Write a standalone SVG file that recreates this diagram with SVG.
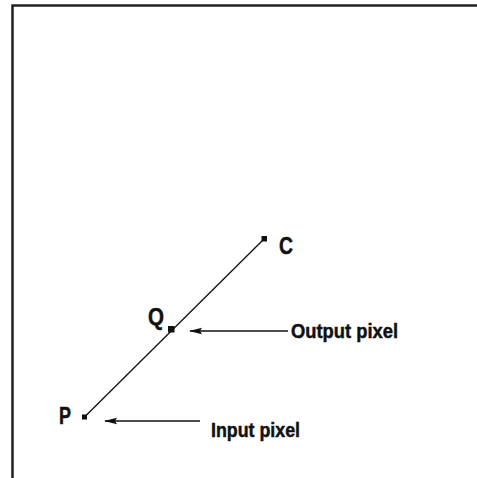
<svg xmlns="http://www.w3.org/2000/svg" width="477" height="478" viewBox="0 0 477 478">
<style>
.lbl{font-family:"Liberation Sans",Arial,sans-serif;font-weight:bold;fill:#111;stroke:#111;stroke-width:0.5}
.big{font-size:24px}
.sm{font-size:21px}
.ln{stroke:#111;stroke-width:1.3;fill:none}
.pt{fill:#111}
</style>
<defs>
<marker id="ah" markerWidth="13" markerHeight="8" refX="12" refY="4" orient="auto" markerUnits="userSpaceOnUse">
<path d="M0,0.8 L13,4 L0,7.2 L2,4 Z" fill="#111"/>
</marker>
</defs>
<rect x="0" y="0" width="477" height="478" fill="#fff"/>
<path d="M12.5,480 L12.5,5.5 L480,5.5" fill="none" stroke="#222" stroke-width="2.5"/>
<g id="connectors">
<line class="ln" x1="84.5" y1="417" x2="264" y2="239"/>
<line class="ln" x1="288" y1="331" x2="190" y2="331" marker-end="url(#ah)"/>
<line class="ln" x1="200" y1="421" x2="105" y2="421" marker-end="url(#ah)"/>
</g>
<g id="C">
<rect class="pt" x="261.5" y="236" width="5.5" height="5.5"/>
<text class="lbl big" x="279" y="254" textLength="14" lengthAdjust="spacingAndGlyphs">C</text>
</g>
<g id="Q">
<rect class="pt" x="168" y="326" width="6.5" height="6.5"/>
<text class="lbl big" x="148" y="325" textLength="16" lengthAdjust="spacingAndGlyphs">Q</text>
</g>
<g id="P">
<rect class="pt" x="82" y="414.5" width="5" height="5"/>
<text class="lbl big" x="59" y="424" textLength="12" lengthAdjust="spacingAndGlyphs">P</text>
</g>
<g id="output">
<text class="lbl sm" x="291" y="338" textLength="107" lengthAdjust="spacingAndGlyphs">Output pixel</text>
</g>
<g id="input">
<text class="lbl sm" x="211" y="437" textLength="89" lengthAdjust="spacingAndGlyphs">Input pixel</text>
</g>
</svg>
